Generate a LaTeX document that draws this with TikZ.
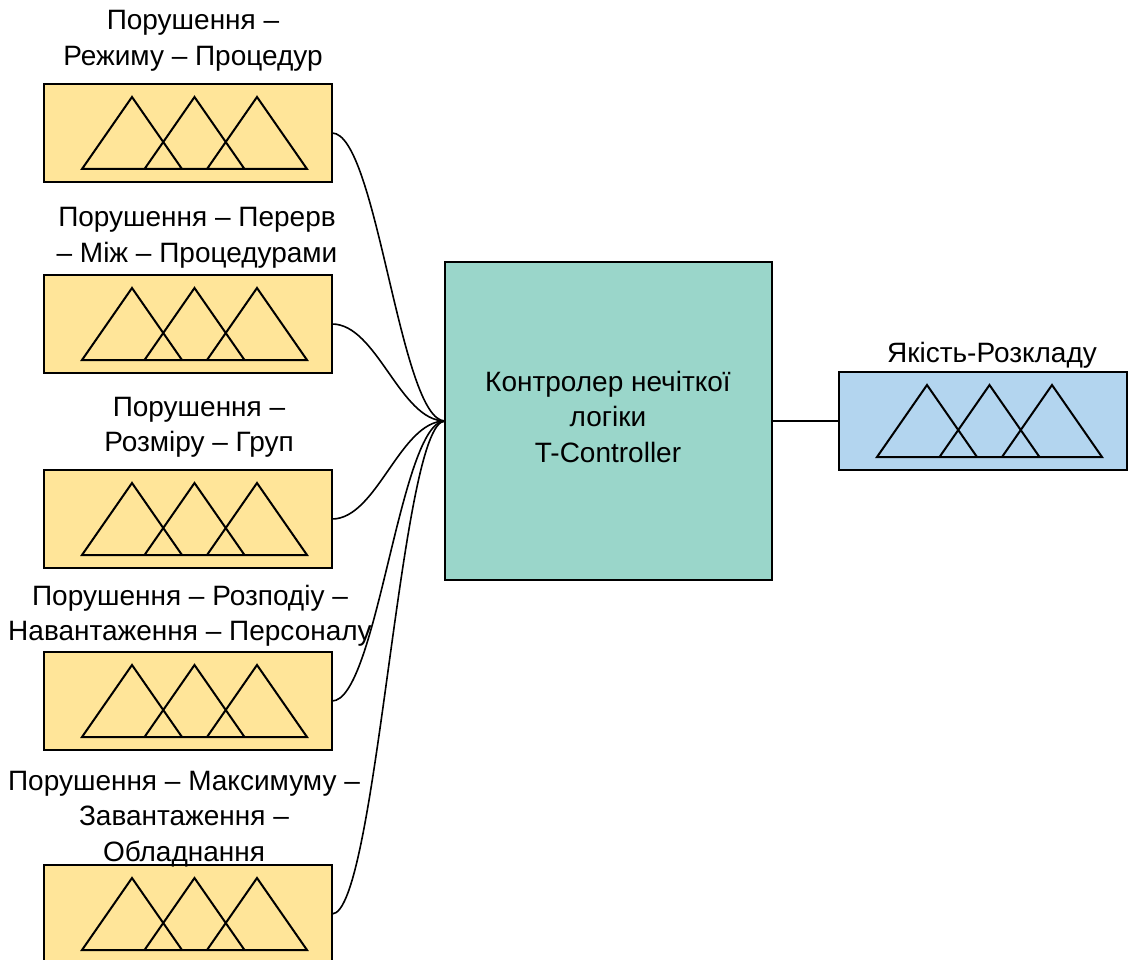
\documentclass[tikz,border=0pt]{standalone}
\usepackage{fontspec}
\setmainfont{Liberation Sans}
% centred stack of lines whose baseline is that of the first line
\newcommand\linestack[1]{\vtop{\baselineskip=35.5pt\lineskiplimit=0pt\halign{\hfil##\hfil\cr#1\crcr}}}
\definecolor{inyellow}{RGB}{255,229,153}
\definecolor{ctlteal}{RGB}{154,214,202}
\definecolor{outblue}{RGB}{179,213,239}
\begin{document}
\begin{tikzpicture}[x=1pt,y=-1pt,
  every node/.style={inner sep=0pt,outer sep=0pt},
  lbl/.style={font=\fontsize{28}{35.5}\selectfont,anchor=base},
  varbox/.style={draw=black,line width=2pt,minimum width=288pt,minimum height=98pt,anchor=north west},
  inbox/.style={varbox,fill=inyellow},
  outbox/.style={varbox,fill=outblue},
  ctl/.style={draw=black,line width=2pt,fill=ctlteal,minimum width=327pt,minimum height=318pt,anchor=north west},
  link/.style={line width=1.6pt},
  mf/.pic={
    \draw[line width=2pt]
      (0,0) -- (50,-72) -- (100,0) -- cycle
      (62.5,0) -- (112.5,-72) -- (162.5,0) -- cycle
      (125,0) -- (175,-72) -- (225,0) -- cycle;
  }]
\useasboundingbox (0,0) rectangle (1128,960);

% input variables
\node[inbox] (in1) at (44,84) {};
\node[inbox] (in2) at (44,275) {};
\node[inbox] (in3) at (44,470) {};
\node[inbox] (in4) at (44,652) {};
\node[inbox] (in5) at (44,865) {};
\foreach \b in {in1,in2,in3,in4,in5}
  \pic at ([shift={(38,85)}]\b.north west) {mf};

\node[lbl] (t1) at (193,30) {\linestack{Порушення –\cr Режиму – Процедур}};
\node[lbl] (t2) at (197,227) {\linestack{Порушення – Перерв\cr – Між – Процедурами}};
\node[lbl] (t3) at (199,416) {\linestack{Порушення –\cr Розміру – Груп}};
\node[lbl] (t4) at (190,605) {\linestack{Порушення – Розподіу –\cr Навантаження – Персоналу}};
\node[lbl] (t5) at (184,790) {\linestack{Порушення – Максимуму –\cr Завантаження –\cr Обладнання}};

% fuzzy controller
\node[ctl] (fc) at (445,262) {};
\node[lbl] (fct) at (608,391) {\linestack{Контролер нечіткої\cr логіки\cr T-Controller}};

% output variable
\node[outbox] (out) at (839,372) {};
\pic at ([shift={(38,85)}]out.north west) {mf};
\node[lbl] (tout) at (992,362) {Якість-Розкладу};

% connectors
\foreach \b in {in1,in2,in3,in4,in5}
  \draw[link] (\b.east) to[out=0,in=180,out distance=45pt,in distance=45pt] (fc.west);
\draw[link] (fc.east) -- (out.west);
\end{tikzpicture}
\end{document}
